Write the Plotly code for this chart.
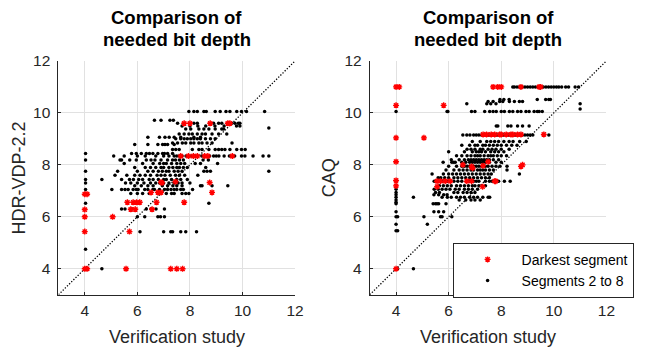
import plotly.graph_objects as go

W, H = 645, 349

# ---------------- data ----------------
axis_ticks = [4, 6, 8, 10, 12]
axis_range = [3, 12]
diag = [3, 12]

# HDR-VDP-2.2 panel, "Segments 2 to 8": rows of (y, [x values])
hdr_black_rows = [
    (10.05, [7.96, 8.15, 8.28, 8.53, 8.62, 8.96, 9.15, 9.37, 9.52, 9.78, 9.96, 10.15, 10.84]),
    (9.72, [6.65, 6.9, 7.24, 7.37]),
    (9.6, [7.53, 8.15, 8.28, 8.9, 9.09, 9.21, 9.59, 9.71, 9.84, 9.9]),
    (9.5, [7.7, 8.0, 8.3, 8.6, 8.95, 9.3, 9.77, 9.9]),
    (9.42, [11.0]),
    (9.38, [7.84, 8.03, 8.34, 8.53, 8.72, 8.96, 9.21, 9.28]),
    (9.19, [7.59, 7.78, 7.96, 8.09, 8.28, 8.46, 8.59, 8.84, 9.09, 9.4]),
    (9.06, [6.4, 6.84, 7.05, 7.21, 7.4, 7.65, 8.15, 8.4]),
    (9.0, [7.46, 7.65, 7.78, 7.9, 8.03, 8.15, 8.28, 8.4, 8.59, 8.78, 8.96]),
    (8.84, [7.34, 7.53, 7.71, 7.84, 8.03, 8.15, 8.34, 8.46, 8.65, 8.84, 9.6]),
    (8.78, [5.9, 6.4, 6.78, 6.96, 7.05, 7.15, 7.4]),
    (8.59, [7.34, 7.46, 7.59, 8.09, 8.34, 8.46, 8.72, 8.96, 9.09, 9.21, 9.33, 9.52, 9.78, 9.96, 10.1]),
    (8.44, [4.03, 5.78, 5.96, 6.15, 6.34, 6.46, 6.59, 6.78, 6.96, 7.03, 7.15, 7.34]),
    (8.34, [5.1, 5.5, 6.0, 6.3, 6.7, 7.0, 7.2, 7.4, 7.5, 7.6, 7.7, 7.85, 8.05, 8.2, 8.45,
            8.75, 8.9, 9.0, 9.1, 9.3, 9.5, 9.7, 9.96, 10.09, 10.4, 10.78, 11.0]),
    (8.19, [4.03, 5.34, 5.4, 5.71, 5.96, 6.34, 6.52, 6.67, 6.9, 7.15, 7.34, 7.45, 7.6, 7.75, 8.5, 8.7]),
    (8.05, [5.5, 6.2, 6.6, 6.85, 7.0, 7.1, 7.3, 7.5, 7.65, 7.8, 8.2, 8.4, 9.05]),
    (7.9, [5.9, 6.3, 6.5, 6.7, 6.9, 7.0, 7.2, 7.35, 7.5, 7.6, 7.75, 7.9, 8.6]),
    (7.75, [4.03, 5.25, 6.0, 6.4, 6.6, 6.8, 6.95, 7.1, 7.2, 7.4, 7.55, 7.7, 8.53, 8.65, 8.78, 11.0]),
    (7.6, [5.15, 5.6, 5.9, 6.1, 6.3, 6.5, 6.75, 6.9, 7.05, 7.25, 7.45, 7.6, 7.8, 8.3]),
    (7.44, [4.03, 4.65, 5.4, 5.7, 5.85, 6.05, 6.2, 6.45, 6.6, 6.8, 7.0, 7.1, 7.3, 7.5, 7.65, 7.9]),
    (7.3, [4.03, 5.55, 5.75, 6.0, 6.25, 6.5, 6.7, 6.85, 7.0, 7.2, 7.4, 7.55, 7.7, 8.0]),
    (7.2, [5.9, 6.15, 6.4, 6.6, 6.95, 7.15, 7.35, 7.5, 7.7, 8.4, 8.46, 8.84, 9.44]),
    (7.05, [4.03, 5.03, 5.4, 5.53, 5.65, 5.84, 5.96, 6.03, 6.28, 6.4, 6.59, 6.65, 6.84,
            7.03, 7.15, 7.28, 7.4, 7.5, 7.65, 7.75, 8.1]),
    (6.9, [4.03, 5.75, 6.0, 6.2, 6.45, 7.1, 7.3, 7.4, 7.7, 7.84, 7.96]),
    (6.52, [4.03, 8.72]),
    (6.3, [5.4, 5.53, 5.78, 6.34, 6.52, 6.71, 7.03]),
    (6.0, [6.0, 6.28, 6.78, 6.88, 7.03]),
    (5.42, [6.1, 7.0, 7.27, 7.34, 7.65, 7.84, 8.25]),
    (4.75, [4.03]),
    (4.0, [4.03, 4.65]),
]

# HDR-VDP-2.2 panel, "Darkest segment"
hdr_red_x = [7.78, 8.0, 8.77, 9.44, 9.52,
             7.65, 7.94, 8.13, 8.28, 8.56, 8.68, 9.61,
             8.75, 8.84, 6.9, 7.45,
             4.0, 4.09, 4.0, 4.0, 4.0, 4.0, 4.09,
             5.06, 5.57, 5.7,
             5.62, 5.84, 5.97, 6.09, 5.75, 5.92,
             6.56, 6.73, 6.52, 6.78, 6.9, 6.94, 7.78,
             7.27, 7.5, 7.72]
hdr_red_y = [9.6, 9.6, 9.6, 9.6, 9.6,
             8.34, 8.34, 8.34, 8.34, 8.34, 8.34, 8.34,
             7.32, 6.94, 7.33, 7.35,
             6.87, 6.87, 6.28, 6.0, 5.43, 4.0, 4.0,
             6.0, 4.0, 5.43,
             6.56, 6.56, 6.56, 6.56, 6.29, 6.29,
             6.29, 6.56, 6.94, 6.94, 6.94, 7.31, 6.56,
             4.0, 4.0, 4.0]

# CAQ panel, "Segments 2 to 8": rows of (y, [x values])
caq_black_rows = [
    (11.0, [8.44, 8.5, 8.6, 8.69, 8.8, 8.9, 9.0, 9.1, 9.2, 9.3, 9.4, 9.6, 9.7, 9.8, 9.9,
            10.0, 10.1, 10.19, 10.3, 10.45, 10.56, 10.81, 10.94]),
    (10.52, [7.95, 8.1, 8.3, 9.37, 9.69, 9.81, 9.87]),
    (10.44, [7.5, 7.69, 7.94, 8.06, 8.31, 8.5, 8.69, 8.81]),
    (10.35, [6.69, 7.45, 7.6, 7.8, 11.0]),
    (10.15, [11.0]),
    (10.05, [4.0, 5.94, 5.97, 6.87, 7.0, 7.37, 7.56, 7.69, 7.81, 8.0, 8.12, 8.31, 8.44,
             8.62, 8.75, 8.94, 9.06, 9.25, 9.37, 9.44, 9.56]),
    (9.5, [7.81, 7.87, 8.25, 8.37, 8.62, 8.81, 9.06]),
    (9.15, [6.54, 6.69, 6.81, 6.95, 7.05, 7.15, 7.25, 7.4, 7.5, 7.55, 7.65, 7.8, 7.85, 7.95,
            8.05, 8.1, 8.25, 8.3, 8.45, 8.5, 8.55, 8.7, 8.8, 8.9, 9.0, 9.1, 9.2, 9.81]),
    (8.9, [6.9, 7.2, 7.45, 7.6, 7.75, 7.9, 8.1, 8.3, 8.45, 8.7, 8.95]),
    (8.75, [6.5, 6.8, 7.0, 7.1, 7.3, 7.4, 7.55, 7.7, 7.85, 8.0, 8.2, 8.4, 8.6]),
    (8.6, [6.7, 6.85, 7.0, 7.2, 7.3, 7.5, 7.65, 7.8, 8.0, 8.3]),
    (8.5, [6.0, 6.6, 6.9, 7.05, 7.15, 7.25, 7.4, 7.6, 7.75, 7.9, 8.1]),
    (8.35, [6.3, 6.5, 6.7, 6.85, 7.0, 7.1, 7.2, 7.35, 7.5, 7.6, 7.7, 7.85, 8.0, 8.2]),
    (8.2, [6.1, 6.4, 6.6, 6.75, 6.85, 6.95, 7.05, 7.15, 7.25, 7.35, 7.45, 7.55, 7.7, 7.9]),
    (8.1, [5.79, 6.12, 6.19, 6.25, 6.5, 6.65, 6.8, 6.9, 7.0, 7.1, 7.2, 7.3, 7.4, 7.55, 7.8, 8.0]),
    (7.95, [6.0, 6.3, 6.5, 6.6, 6.7, 6.8, 6.95, 7.05, 7.15, 7.25, 7.4, 7.5, 7.65, 7.8, 7.95, 8.22]),
    (7.8, [5.9, 6.2, 6.4, 6.55, 6.7, 6.85, 6.95, 7.1, 7.2, 7.3, 7.4, 7.55, 7.7, 8.22]),
    (7.65, [5.37, 5.8, 6.0, 6.15, 6.3, 6.45, 6.6, 6.75, 6.9, 7.05, 7.2, 7.35, 7.5, 7.62, 8.69]),
    (7.5, [5.6, 5.7, 5.85, 6.0, 6.2, 6.35, 6.5, 6.65, 6.8, 6.95, 7.1, 7.25, 7.4, 7.55]),
    (7.37, [5.45, 5.75, 5.95, 6.2, 6.35, 6.5, 6.8, 6.95, 7.05, 7.15, 7.4, 7.55, 7.65, 7.9, 8.12, 8.34]),
    (7.2, [5.65, 5.8, 5.95, 6.1, 6.3, 6.45, 6.6, 6.75, 6.9, 7.0, 7.15, 7.4]),
    (7.06, [4.0, 5.45, 5.6, 5.75, 5.9, 6.05, 6.25, 6.4, 6.6, 6.75, 6.9, 7.1]),
    (6.94, [4.0, 5.5, 5.65, 6.2, 6.35, 6.55, 6.7, 6.85, 7.0]),
    (6.85, [4.0, 5.44, 5.62, 5.81, 5.94]),
    (6.75, [4.0, 4.66, 5.75, 5.95, 6.1, 6.3, 6.45, 6.6, 6.8, 6.95, 7.1, 7.3, 7.5, 7.56]),
    (6.65, [4.0, 6.4, 6.65, 6.85, 7.0, 7.2]),
    (6.56, [4.0]),
    (6.5, [4.0, 5.41, 5.5, 5.56, 5.62, 5.9]),
    (6.19, [4.0, 5.44, 5.62, 5.81]),
    (6.0, [4.0, 4.06, 5.06, 5.69, 5.75, 6.12]),
    (5.71, [4.0, 5.19]),
    (5.46, [4.0, 4.06]),
    (4.0, [4.06, 4.66]),
]

# CAQ panel, "Darkest segment"
caq_red_x = [4.0, 4.12, 7.69, 7.87, 8.0, 8.75, 9.44, 9.5,
             4.0, 5.81, 4.0, 5.06, 4.0, 4.0, 4.0, 4.0,
             7.31, 7.44, 7.62, 7.75, 7.94, 8.0, 8.19, 8.37, 8.44, 8.62, 8.75, 9.62,
             8.75, 8.81, 6.87, 7.31, 7.5, 6.54, 6.91,
             7.75, 5.56, 5.69, 5.87, 6.06, 6.69, 6.87, 7.79, 5.56, 7.29]
caq_red_y = [11.0, 11.0, 11.0, 11.0, 11.0, 11.0, 11.0, 11.0,
             10.29, 10.29, 9.04, 9.04, 8.12, 7.4, 7.19, 4.0,
             9.17, 9.17, 9.17, 9.17, 9.17, 9.17, 9.17, 9.17, 9.17, 9.17, 9.17, 9.17,
             7.94, 8.0, 7.94, 7.97, 8.12, 8.0, 7.87,
             7.37, 7.37, 7.37, 7.37, 7.37, 7.37, 7.37, 7.37, 7.16, 7.16]

title_lines = ["Comparison of", "needed bit depth"]
x_title = "Verification study"
y_titles = ["HDR-VDP-2.2", "CAQ"]
legend_names = ["Darkest segment", "Segments 2 to 8"]


def flatten(rows):
    xs, ys = [], []
    for yv, xl in rows:
        for xv in xl:
            xs.append(xv)
            ys.append(yv)
    return xs, ys


hdr_bx, hdr_by = flatten(hdr_black_rows)
caq_bx, caq_by = flatten(caq_black_rows)

# ---------------- layout geometry (pixels) ----------------
FONT = "Liberation Sans, Arial, Helvetica, sans-serif"
TXT = "#262626"
plot_l = [59.3, 375.0]
plot_w = 240.0
plot_top, plot_bot = 53.3, 293.3


def px(xp):
    return xp / W


def py(yp):
    return 1 - yp / H


fig = go.Figure()

panels = [
    ("x", "y", hdr_bx, hdr_by, hdr_red_x, hdr_red_y, False),
    ("x2", "y2", caq_bx, caq_by, caq_red_x, caq_red_y, True),
]

for xa, ya, bx, by, rx, ry, show in panels:
    fig.add_trace(go.Scatter(x=diag, y=diag, mode="lines", xaxis=xa, yaxis=ya,
                             line=dict(color="black", width=1.3, dash="1.3px,1.7px"),
                             showlegend=False, hoverinfo="skip"))
    fig.add_trace(go.Scatter(x=bx, y=by, mode="markers", xaxis=xa, yaxis=ya,
                             name=legend_names[1], showlegend=show,
                             marker=dict(symbol="circle", size=3.5, color="black")))
    fig.add_trace(go.Scatter(x=rx, y=ry, mode="markers", xaxis=xa, yaxis=ya,
                             name=legend_names[0], showlegend=show,
                             marker=dict(symbol="asterisk-open", size=5, color="red",
                                         line=dict(width=1.4, color="red"))))

axis_common = dict(
    range=axis_range, tickvals=axis_ticks, showgrid=True, gridcolor="#e1e1e1", gridwidth=1,
    showline=True, linecolor=TXT, linewidth=1, ticks="inside", ticklen=3, tickcolor=TXT,
    zeroline=False, tickfont=dict(family=FONT, size=15.5, color=TXT), fixedrange=True,
)

yd = [py(plot_bot), py(plot_top)]
fig.update_layout(
    width=W, height=H, margin=dict(l=0, r=0, t=0, b=0),
    paper_bgcolor="white", plot_bgcolor="white",
    xaxis=dict(domain=[px(plot_l[0]), px(plot_l[0] + plot_w)], anchor="y",
               ticklabelstandoff=2, **axis_common),
    yaxis=dict(domain=yd, anchor="x", ticklabelstandoff=4, **axis_common),
    xaxis2=dict(domain=[px(plot_l[1]), px(plot_l[1] + plot_w)], anchor="y2",
                ticklabelstandoff=2, **axis_common),
    yaxis2=dict(domain=yd, anchor="x2", ticklabelstandoff=4, **axis_common),
    legend=dict(x=px(459), y=py(240), xanchor="left", yanchor="top",
                bgcolor="white", bordercolor=TXT, borderwidth=1,
                font=dict(family=FONT, size=14, color="black"),
                traceorder="reversed", itemwidth=58, tracegroupgap=0),
    showlegend=True,
)

annotations = []
title_y = [8.5, 31]
for i in range(2):
    cx = plot_l[i] + plot_w / 2
    for j in range(2):
        annotations.append(dict(text="<b>" + title_lines[j] + "</b>",
                                x=px(cx), y=py(title_y[j]), xref="paper", yref="paper",
                                xanchor="center", yanchor="middle", showarrow=False,
                                font=dict(family=FONT, size=18.5, color="black")))
    annotations.append(dict(text=x_title, x=px(cx), y=py(337), xref="paper", yref="paper",
                            xanchor="center", yanchor="middle", showarrow=False,
                            font=dict(family=FONT, size=18, color=TXT)))
ytx = [19, 333]
for i in range(2):
    annotations.append(dict(text=y_titles[i], x=px(ytx[i]), y=py((plot_top + plot_bot) / 2),
                            xref="paper", yref="paper", xanchor="center", yanchor="middle",
                            textangle=-90, showarrow=False,
                            font=dict(family=FONT, size=18, color=TXT)))
fig.update_layout(annotations=annotations)

fig.write_html("out.html")
